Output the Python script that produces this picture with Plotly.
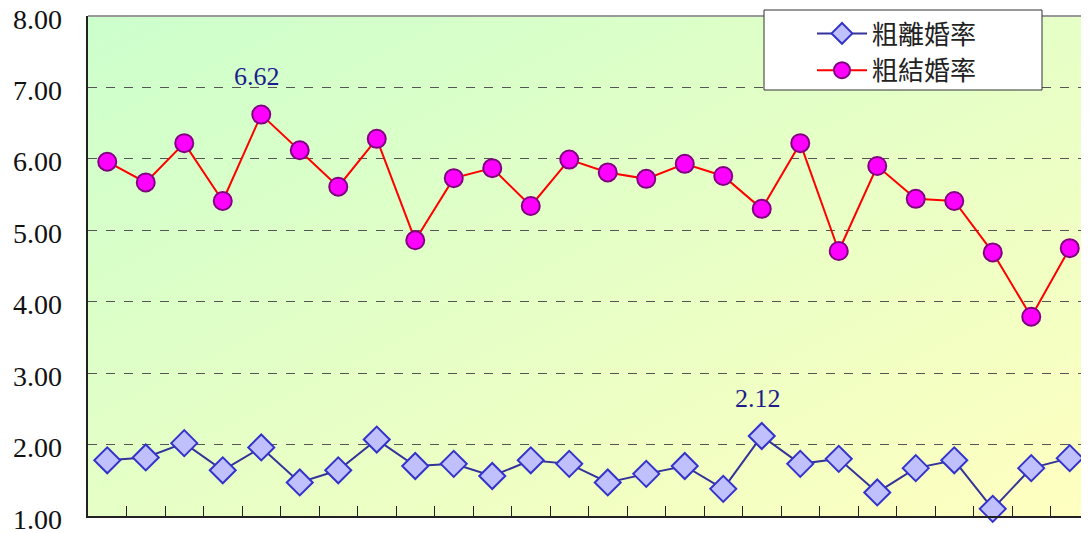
import plotly.graph_objects as go
import base64

categories = [str(i) for i in range(1, 27)]
divorce = [1.78, 1.82, 2.02, 1.64, 1.96, 1.47, 1.64, 2.07, 1.70, 1.73, 1.56, 1.78, 1.73,
           1.47, 1.59, 1.70, 1.38, 2.12, 1.73, 1.80, 1.33, 1.67, 1.78, 1.10, 1.67, 1.81]
marriage = [5.96, 5.67, 6.22, 5.41, 6.62, 6.12, 5.61, 6.28, 4.86, 5.73, 5.87, 5.34, 5.99,
            5.81, 5.72, 5.93, 5.76, 5.30, 6.22, 4.71, 5.90, 5.44, 5.41, 4.69, 3.79, 4.75]
names = ["粗離婚率", "粗結婚率"]
ytick_vals = [1, 2, 3, 4, 5, 6, 7, 8]
ytick_text = ["1.00", "2.00", "3.00", "4.00", "5.00", "6.00", "7.00", "8.00"]

# page body has an 8px margin; lay out in screen pixels accordingly
O = 8
W, H = 1089 - O, 533 - O
ML, MR, MT, MB = 88 - O, 0, 16 - O, 17
PW, PH = W - ML - MR, H - MT - MB

def px_x(p):
    return (p - O - ML) / PW

def px_y(p):
    return 1 - (p - O - MT) / PH

svg = ('<svg xmlns="http://www.w3.org/2000/svg" width="1000" height="500" preserveAspectRatio="none">'
       '<defs><linearGradient id="g" x1="0" y1="0" x2="1" y2="1">'
       '<stop offset="0" stop-color="#ccffcc"/><stop offset="1" stop-color="#ffffc0"/>'
       '</linearGradient></defs><rect width="1000" height="500" fill="url(#g)"/></svg>')
bg_uri = "data:image/svg+xml;base64," + base64.b64encode(svg.encode()).decode()

serif = "Liberation Serif"

fig = go.Figure()
fig.add_trace(go.Scatter(
    x=categories, y=divorce, name=names[0], mode="lines+markers",
    line=dict(color="#333399", width=2),
    marker=dict(symbol="diamond", size=20, color="#c0c0ff", line=dict(color="#3333cc", width=2)),
    cliponaxis=False,
))
fig.add_trace(go.Scatter(
    x=categories, y=marriage, name=names[1], mode="lines+markers",
    line=dict(color="#ff0000", width=2),
    marker=dict(symbol="circle", size=18, color="#ff00ff", line=dict(color="#800080", width=2)),
    cliponaxis=False,
))

imax_m = marriage.index(max(marriage))
imax_d = divorce.index(max(divorce))
for i, vals in ((imax_m, marriage), (imax_d, divorce)):
    # category axis: use the category index so the label sits over its point
    fig.add_annotation(x=i, y=vals[i], text=f"{vals[i]:.2f}", showarrow=False,
                       yshift=38, xshift=-4,
                       font=dict(family=serif, size=26, color="#1c1c8c"))

# y tick labels (drawn as text at each tick value, sitting slightly below the gridline)
for v, t in zip(ytick_vals, ytick_text):
    fig.add_annotation(xref="paper", yref="y", x=0, y=v, text=t, showarrow=False,
                       xanchor="right", yanchor="middle", xshift=-24, yshift=-3,
                       font=dict(family=serif, size=28, color="#111111"))

fig.add_layout_image(dict(source=bg_uri, xref="paper", yref="paper", x=0, y=1,
                          sizex=1, sizey=1, sizing="stretch", layer="below"))

fig.add_shape(type="line", xref="paper", yref="paper", x0=0, x1=1, y0=1, y1=1,
              line=dict(color="#999999", width=2))
# legend frame
fig.add_shape(type="rect", xref="paper", yref="paper",
              x0=px_x(764), x1=px_x(1042), y0=px_y(90), y1=px_y(10),
              line=dict(color="#333333", width=1), fillcolor="white", layer="above")

fig.update_layout(
    width=W, height=H,
    margin=dict(l=ML, r=MR, t=MT, b=MB),
    paper_bgcolor="white", plot_bgcolor="rgba(0,0,0,0)",
    showlegend=True,
    legend=dict(x=px_x(812), y=px_y(10), xanchor="left", yanchor="top",
                bgcolor="rgba(0,0,0,0)", borderwidth=0,
                font=dict(family="Noto Sans CJK TC", size=26, color="#222222"),
                itemwidth=50, tracegroupgap=0),
    xaxis=dict(type="category", range=[-0.5, 25.5], showgrid=False, automargin=False,
               showline=True, linecolor="#222222", linewidth=2,
               ticks="inside", ticklen=10, tickcolor="#222222", tickwidth=1,
               tickson="boundaries", showticklabels=False, zeroline=False),
    yaxis=dict(range=[1, 8], tickvals=ytick_vals, automargin=False,
               showticklabels=False,
               showgrid=True, gridcolor="#555555", griddash="dash", gridwidth=1,
               showline=True, linecolor="#222222", linewidth=2,
               ticks="", zeroline=False),
)

fig.write_html("out.html")
